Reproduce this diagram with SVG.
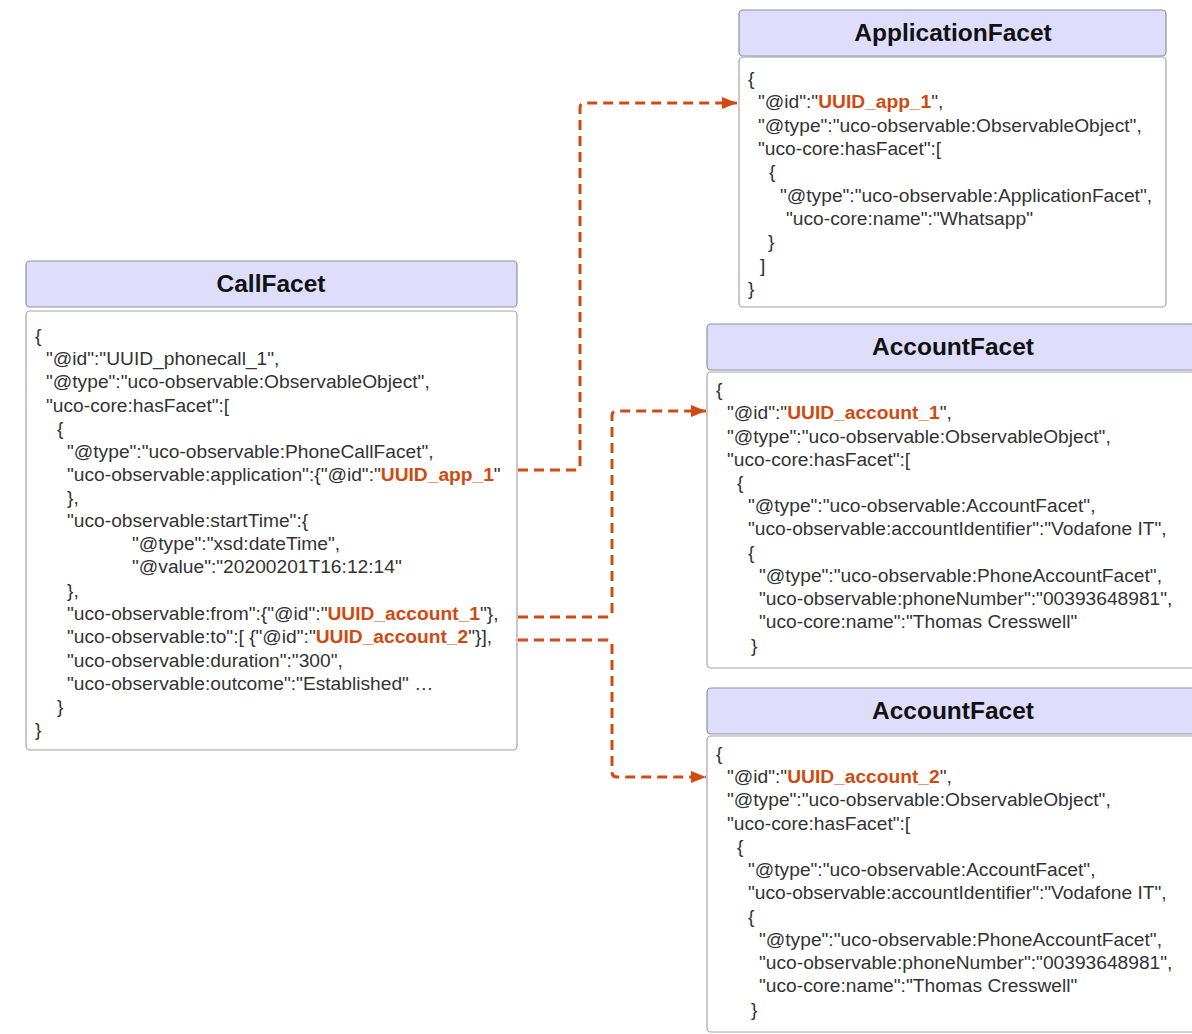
<svg xmlns="http://www.w3.org/2000/svg" width="1192" height="1034" viewBox="0 0 1192 1034">
<defs>
<style>
.hdr{fill:#dedefc;stroke:#8e8e9e;stroke-width:1.2}
.body{fill:#fff;stroke:#a4a4a8;stroke-width:1.2}
.title{font-family:"Liberation Sans",Arial,sans-serif;font-size:24.5px;font-weight:bold;fill:#111;text-anchor:middle}
.t{font-family:"Liberation Sans",Arial,sans-serif;font-size:19.2px;fill:#333}
.o{fill:#d04a10;font-weight:bold}
.conn{fill:none;stroke:#d14a10;stroke-width:3;stroke-dasharray:10 6}
</style>
<marker id="arr" markerWidth="15" markerHeight="12" refX="15" refY="6" orient="auto" markerUnits="userSpaceOnUse">
<path d="M0,0 L15,6 L0,12 Z" fill="#d14a10"/>
</marker>
</defs>
<rect width="1192" height="1034" fill="#fff"/>

<g id="callfacet">
<rect class="hdr" x="26" y="261" width="491" height="46" rx="4"/>
<text class="title" x="271" y="292">CallFacet</text>
<rect class="body" x="26" y="311" width="491" height="439" rx="4"/>
<text class="t" x="35" y="342">{</text>
<text class="t" x="46" y="365">"@id":"UUID_phonecall_1",</text>
<text class="t" x="46" y="388">"@type":"uco-observable:ObservableObject",</text>
<text class="t" x="46" y="412">"uco-core:hasFacet":[</text>
<text class="t" x="57" y="435">{</text>
<text class="t" x="67" y="458">"@type":"uco-observable:PhoneCallFacet",</text>
<text class="t" x="67" y="481">"uco-observable:application":{"@id":"<tspan class="o">UUID_app_1</tspan>"</text>
<text class="t" x="67" y="504">},</text>
<text class="t" x="67" y="527">"uco-observable:startTime":{</text>
<text class="t" x="132" y="550">"@type":"xsd:dateTime",</text>
<text class="t" x="132" y="573">"@value":"20200201T16:12:14"</text>
<text class="t" x="67" y="597">},</text>
<text class="t" x="67" y="620">"uco-observable:from":{"@id":"<tspan class="o">UUID_account_1</tspan>"},</text>
<text class="t" x="67" y="643">"uco-observable:to":[ {"@id":"<tspan class="o">UUID_account_2</tspan>"}],</text>
<text class="t" x="67" y="667">"uco-observable:duration":"300",</text>
<text class="t" x="67" y="690">"uco-observable:outcome":"Established" …</text>
<text class="t" x="57" y="713">}</text>
<text class="t" x="35" y="736">}</text>
</g>

<g id="applicationfacet">
<rect class="hdr" x="739" y="10" width="427" height="46" rx="4"/>
<text class="title" x="953" y="41">ApplicationFacet</text>
<rect class="body" x="739" y="57" width="427" height="250" rx="4"/>
<text class="t" x="748" y="85">{</text>
<text class="t" x="758" y="108">"@id":"<tspan class="o">UUID_app_1</tspan>",</text>
<text class="t" x="758" y="132">"@type":"uco-observable:ObservableObject",</text>
<text class="t" x="758" y="155">"uco-core:hasFacet":[</text>
<text class="t" x="769" y="178">{</text>
<text class="t" x="780" y="202">"@type":"uco-observable:ApplicationFacet",</text>
<text class="t" x="786" y="225">"uco-core:name":"Whatsapp"</text>
<text class="t" x="768" y="248">}</text>
<text class="t" x="760" y="272">]</text>
<text class="t" x="748" y="295">}</text>
</g>

<g id="accountfacet1">
<rect class="hdr" x="707" y="324" width="495" height="46" rx="4"/>
<text class="title" x="953" y="355">AccountFacet</text>
<rect class="body" x="707" y="372" width="495" height="296" rx="4"/>
<text class="t" x="716" y="396">{</text>
<text class="t" x="727" y="419">"@id":"<tspan class="o">UUID_account_1</tspan>",</text>
<text class="t" x="727" y="443">"@type":"uco-observable:ObservableObject",</text>
<text class="t" x="727" y="466">"uco-core:hasFacet":[</text>
<text class="t" x="737" y="489">{</text>
<text class="t" x="748" y="512">"@type":"uco-observable:AccountFacet",</text>
<text class="t" x="748" y="535">"uco-observable:accountIdentifier":"Vodafone IT",</text>
<text class="t" x="748" y="559">{</text>
<text class="t" x="759" y="582">"@type":"uco-observable:PhoneAccountFacet",</text>
<text class="t" x="759" y="605">"uco-observable:phoneNumber":"00393648981",</text>
<text class="t" x="759" y="628">"uco-core:name":"Thomas Cresswell"</text>
<text class="t" x="751" y="652">}</text>
</g>

<g id="accountfacet2">
<rect class="hdr" x="707" y="688" width="495" height="46" rx="4"/>
<text class="title" x="953" y="719">AccountFacet</text>
<rect class="body" x="707" y="736" width="495" height="296" rx="4"/>
<text class="t" x="716" y="760">{</text>
<text class="t" x="727" y="783">"@id":"<tspan class="o">UUID_account_2</tspan>",</text>
<text class="t" x="727" y="806">"@type":"uco-observable:ObservableObject",</text>
<text class="t" x="727" y="830">"uco-core:hasFacet":[</text>
<text class="t" x="737" y="853">{</text>
<text class="t" x="748" y="876">"@type":"uco-observable:AccountFacet",</text>
<text class="t" x="748" y="899">"uco-observable:accountIdentifier":"Vodafone IT",</text>
<text class="t" x="748" y="923">{</text>
<text class="t" x="759" y="946">"@type":"uco-observable:PhoneAccountFacet",</text>
<text class="t" x="759" y="969">"uco-observable:phoneNumber":"00393648981",</text>
<text class="t" x="759" y="992">"uco-core:name":"Thomas Cresswell"</text>
<text class="t" x="751" y="1016">}</text>
</g>

<g id="connectors">
<path class="conn" d="M518,470 H575 Q580,470 580,465 V108 Q580,103 585,103 H737" marker-end="url(#arr)"/>
<path class="conn" d="M518,617 H607 Q612,617 612,612 V416 Q612,411 617,411 H706" marker-end="url(#arr)"/>
<path class="conn" d="M518,640 H607 Q612,640 612,645 V772 Q612,777 617,777 H706" marker-end="url(#arr)"/>
</g>
</svg>
